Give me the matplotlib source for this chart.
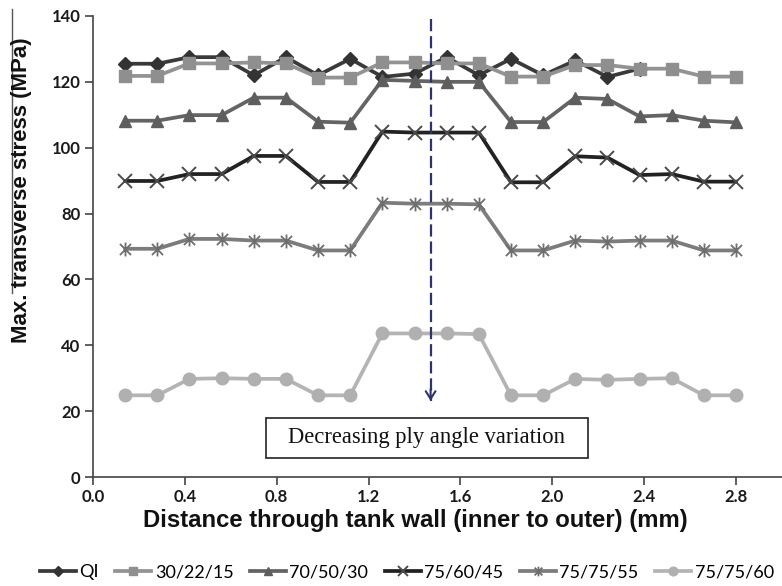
import matplotlib
matplotlib.use("Agg")
import matplotlib.pyplot as plt
from matplotlib.path import Path
from matplotlib.patches import Rectangle
from matplotlib.lines import Line2D

# Positions through the wall (mm)
distance = [0.14, 0.28, 0.42, 0.56, 0.70, 0.84, 0.98, 1.12, 1.26, 1.40,
            1.54, 1.68, 1.82, 1.96, 2.10, 2.24, 2.38, 2.52, 2.66, 2.80]

# Maximum transverse stress (MPa) for each lay-up
qi = [125.5, 125.5, 127.5, 127.5, 122, 127.5, 122, 127, 121.5, 122.5,
      127.5, 122, 127, 122, 126.5, 121.5, 124]
s_30_22_15 = [121.8, 121.8, 125.6, 125.6, 125.9, 125.6, 121.3, 121.3, 125.9, 125.9,
              125.6, 125.6, 121.6, 121.6, 125.1, 125.1, 124, 124, 121.6, 121.6]
s_70_50_30 = [108.2, 108.2, 109.9, 109.9, 115.2, 115.2, 107.9, 107.6, 120.6, 120.3,
              120.0, 120.0, 107.8, 107.8, 115.2, 114.8, 109.5, 109.9, 108.2, 107.7]
s_75_60_45 = [89.9, 89.9, 92.0, 92.0, 97.5, 97.5, 89.6, 89.6, 104.9, 104.6,
              104.6, 104.6, 89.5, 89.5, 97.4, 97.0, 91.7, 92.0, 89.7, 89.7]
s_75_75_55 = [69.3, 69.3, 72.3, 72.3, 71.8, 71.8, 68.8, 68.8, 83.3, 83.0,
              83.0, 82.8, 68.8, 68.8, 71.8, 71.5, 71.8, 71.8, 68.8, 68.8]
s_75_75_60 = [24.8, 24.8, 29.8, 30.0, 29.8, 29.8, 24.8, 24.8, 43.6, 43.6,
              43.6, 43.4, 24.8, 24.8, 29.8, 29.5, 29.8, 30.0, 24.8, 24.8]

labels = ["QI", "30/22/15", "70/50/30", "75/60/45", "75/75/55", "75/75/60"]
x_ticks = [0.0, 0.4, 0.8, 1.2, 1.6, 2.0, 2.4, 2.8]
y_ticks = [0, 20, 40, 60, 80, 100, 120, 140]

# asterisk marker: an X with a vertical stroke
asterisk = Path([(-1, -1), (1, 1), (-1, 1), (1, -1), (0, -1.25), (0, 1.25)],
                [Path.MOVETO, Path.LINETO, Path.MOVETO, Path.LINETO,
                 Path.MOVETO, Path.LINETO])

fig = plt.figure(figsize=(7.82, 5.86), dpi=100)
ax = fig.add_axes([93 / 782, 1 - 477 / 586, 689 / 782, 461 / 586])

lw = 2.7
ax.plot(distance[:len(qi)], qi, color="#3a3a3a", lw=lw, marker="D", ms=7,
        mfc="#333333", mec="#333333", label=labels[0], zorder=3)
ax.plot(distance, s_30_22_15, color="#939393", lw=lw, marker="s", ms=9,
        mfc="#8f8f8f", mec="#8f8f8f", label=labels[1], zorder=4)
ax.plot(distance, s_70_50_30, color="#646464", lw=lw, marker="^", ms=9,
        mfc="#5e5e5e", mec="#5e5e5e", label=labels[2], zorder=3)
ax.plot(distance, s_75_60_45, color="#222222", lw=lw, marker="x", ms=10,
        mew=1.4, mec="#4a4a4a", label=labels[3], zorder=3)
ax.plot(distance, s_75_75_55, color="#7c7c7c", lw=lw, marker=asterisk, ms=10,
        mew=1.3, mec="#6e6e6e", mfc="none", label=labels[4], zorder=3)
ax.plot(distance, s_75_75_60, color="#b4b4b4", lw=lw, marker="o", ms=9,
        mfc="#b0b0b0", mec="#b0b0b0", label=labels[5], zorder=3)

# dashed guide with an open arrow head
arrow_x = 1.47
ax.plot([arrow_x, arrow_x], [139.0, 23.0], color="#2a3570", lw=1.6,
        linestyle=(0, (5.5, 2.2)), zorder=5)
ax.annotate("", xy=(arrow_x, 22.3), xytext=(arrow_x, 27.5),
            arrowprops=dict(arrowstyle="->,head_length=0.55,head_width=0.35",
                            color="#2a3570", lw=1.5), zorder=5)

# annotation box
ax.add_patch(Rectangle((0.753, 5.9), 1.401, 12.1, facecolor="white",
                       edgecolor="#222222", lw=1.2, zorder=6))
ax.text(1.4535, 11.9, "Decreasing ply angle variation", ha="center", va="center",
        fontsize=16.3, family="Liberation Serif", color="#111111", zorder=7)

ax.set_xlim(0, 3.0)
ax.set_ylim(0, 140)
ax.set_xticks(x_ticks)
ax.set_xticklabels([f"{t:.1f}" for t in x_ticks])
ax.set_yticks(y_ticks)
ax.set_yticklabels([str(t) for t in y_ticks])
for side in ("top", "right"):
    ax.spines[side].set_visible(False)
for side in ("left", "bottom"):
    ax.spines[side].set_color("#444444")
    ax.spines[side].set_linewidth(1.2)
ax.tick_params(axis="both", direction="out", length=6, width=1.2, color="#444444",
               labelsize=12, pad=3)
for lab in ax.get_xticklabels() + ax.get_yticklabels():
    lab.set_family("Lato")
    lab.set_fontweight("bold")
    lab.set_color("#1a1a1a")

# axis titles
fig.text(22 / 782, 1 - 190 / 586, "Max. transverse stress (MPa)", rotation=90,
         ha="center", va="center", fontsize=16, family="Liberation Sans",
         fontweight="bold", color="#111111")
fig.add_artist(Line2D([12 / 782, 12 / 782], [1 - 9 / 586, 1 - 293 / 586],
                      color="#555555", lw=1.0))
fig.text(415 / 782, 1 - 521 / 586, "Distance through tank wall (inner to outer) (mm)",
         ha="center", va="center", fontsize=17.2, family="Liberation Sans",
         fontweight="bold", color="#111111")

handles, hlabels = ax.get_legend_handles_labels()
fig.legend(handles, hlabels, loc="center", bbox_to_anchor=(0.52, 1 - 572 / 586),
           ncol=6, frameon=False, prop=dict(family="Lato", size=13),
           handlelength=2.0, handletextpad=0.2, columnspacing=0.9, markerscale=0.7)

fig.savefig("out.png", dpi=100)
